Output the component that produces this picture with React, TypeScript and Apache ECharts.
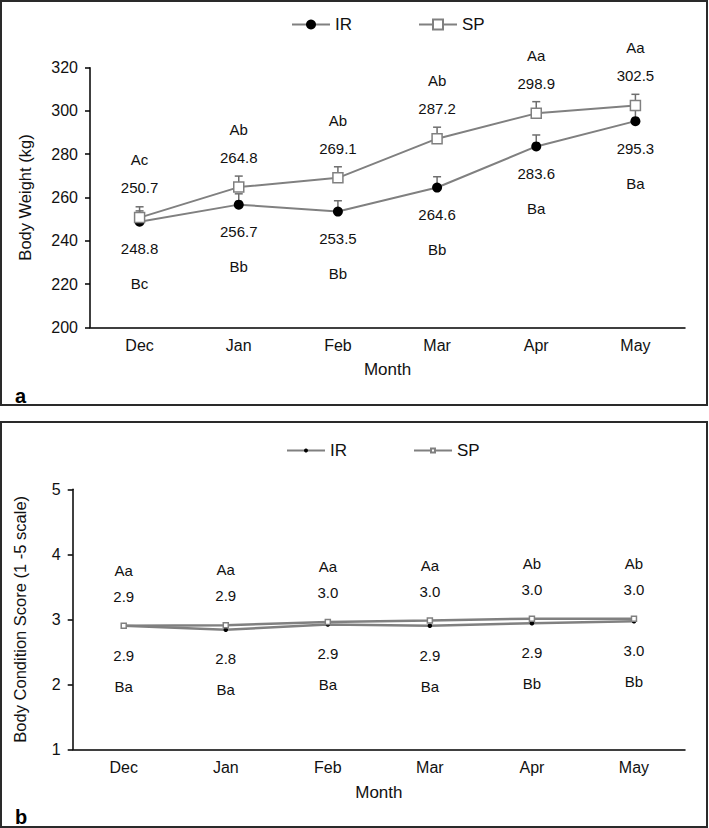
import React, { useEffect, useRef } from 'react';
import * as echarts from 'echarts';

const months = ['Dec', 'Jan', 'Feb', 'Mar', 'Apr', 'May'];

// Panel a: body weight (kg)
const bwIR = [248.8, 256.7, 253.5, 264.6, 283.6, 295.3];
const bwSP = [250.7, 264.8, 269.1, 287.2, 298.9, 302.5];
const bwIRErr = [5, 5, 5, 5, 5.3, 5];
const bwSPErr = [5, 5.1, 5.1, 5.3, 5.4, 5.2];
const bwIRLetters = ['Bc', 'Bb', 'Bb', 'Bb', 'Ba', 'Ba'];
const bwSPLetters = ['Ac', 'Ab', 'Ab', 'Ab', 'Aa', 'Aa'];
const bwAxis = { min: 200, max: 320, interval: 20 };

// Panel b: body condition score
const bcsIR = [2.9, 2.84, 2.92, 2.9, 2.94, 2.97];
const bcsSP = [2.9, 2.91, 2.96, 2.98, 3.01, 3.01];
const bcsIRLetters = ['Ba', 'Ba', 'Ba', 'Ba', 'Bb', 'Bb'];
const bcsSPLetters = ['Aa', 'Aa', 'Aa', 'Aa', 'Ab', 'Ab'];
const bcsAxis = { min: 1, max: 5, interval: 1 };

const FONT = '"Liberation Sans", Arial, sans-serif';
const GREY = '#808080';
const TXT = '#111';

function makeOption(cfg: any) {
  const {
    ir, sp, irErr, spErr, irLetters, spLetters, axis, yName, yNameSize,
    grid, yNameGap, xNameGap, legendPos, symIR, symSP, legendItemHeight,
    lineWidth, spLab, irLab, letter,
  } = cfg;

  const errSeries = (vals: number[], errs: number[] | null) =>
    errs
      ? [{
          type: 'custom',
          silent: true,
          z: 1,
          encode: { x: 0, y: 1 },
          data: vals.map((v, i) => [i, v, errs[i]]),
          renderItem: (params: any, api: any) => {
            const x = api.value(0);
            const y = api.value(1);
            const e = api.value(2);
            const p0 = api.coord([x, y]);
            const p1 = api.coord([x, y + e]);
            const cap = 4;
            const st = { stroke: '#6e6e6e', lineWidth: 1.5 };
            return {
              type: 'group',
              children: [
                { type: 'line', shape: { x1: p0[0], y1: p0[1], x2: p1[0], y2: p1[1] }, style: st },
                { type: 'line', shape: { x1: p1[0] - cap, y1: p1[1], x2: p1[0] + cap, y2: p1[1] }, style: st },
              ],
            };
          },
        }]
      : [];

  return {
    animation: false,
    textStyle: { fontFamily: FONT },
    legend: {
      data: ['IR', 'SP'],
      left: legendPos[0],
      top: legendPos[1],
      itemWidth: 38,
      itemHeight: legendItemHeight,
      itemGap: 66,
      textStyle: { fontSize: 17, color: TXT, fontFamily: FONT },
    },
    grid: { ...grid, containLabel: false },
    xAxis: {
      type: 'category',
      data: months,
      boundaryGap: true,
      axisTick: { show: false },
      axisLine: { show: true, lineStyle: { color: '#000', width: 1.5 } },
      axisLabel: { fontSize: 16, color: TXT, margin: 10, fontFamily: FONT },
      name: 'Month',
      nameLocation: 'middle',
      nameGap: xNameGap,
      nameTextStyle: { fontSize: 17, color: TXT, fontFamily: FONT },
      splitLine: { show: false },
    },
    yAxis: {
      type: 'value',
      min: axis.min,
      max: axis.max,
      interval: axis.interval,
      axisLine: { show: true, lineStyle: { color: '#000', width: 1.5 } },
      axisTick: { show: true, length: 5, lineStyle: { color: '#000', width: 1.5 } },
      splitLine: { show: false },
      axisLabel: { fontSize: 16, color: TXT, margin: 12, fontFamily: FONT },
      name: yName,
      nameLocation: 'middle',
      nameGap: yNameGap,
      nameTextStyle: { fontSize: yNameSize, color: TXT, fontFamily: FONT },
    },
    graphic: [
      {
        type: 'text',
        left: letter[0],
        top: letter[1],
        style: { text: letter[2], font: `bold 20px ${FONT}`, fill: '#000' },
      },
    ],
    series: [
      ...errSeries(ir, irErr),
      ...errSeries(sp, spErr),
      {
        name: 'IR',
        type: 'line',
        data: ir,
        z: 3,
        symbol: 'circle',
        symbolSize: symIR,
        itemStyle: { color: '#000', borderColor: '#000', borderWidth: 0 },
        lineStyle: { color: GREY, width: lineWidth },
        label: {
          show: true,
          position: 'bottom',
          distance: irLab[0],
          formatter: (p: any) => `{v|${Number(p.value).toFixed(1)}}\n{l|${irLetters[p.dataIndex]}}`,
          rich: {
            v: { fontSize: 15, color: TXT, lineHeight: irLab[1], fontFamily: FONT },
            l: { fontSize: 15, color: TXT, lineHeight: irLab[2], fontFamily: FONT },
          },
        },
      },
      {
        name: 'SP',
        type: 'line',
        data: sp,
        z: 4,
        symbol: 'rect',
        symbolSize: symSP,
        itemStyle: { color: '#fff', borderColor: GREY, borderWidth: 1.5 },
        lineStyle: { color: GREY, width: lineWidth },
        label: {
          show: true,
          position: 'top',
          distance: spLab[0],
          formatter: (p: any) => `{l|${spLetters[p.dataIndex]}}\n{v|${Number(p.value).toFixed(1)}}`,
          rich: {
            v: { fontSize: 15, color: TXT, lineHeight: spLab[1], fontFamily: FONT },
            l: { fontSize: 15, color: TXT, lineHeight: spLab[1], fontFamily: FONT },
          },
        },
      },
    ],
  };
}

function Chart({ option, style }: { option: any; style: React.CSSProperties }) {
  const ref = useRef<HTMLDivElement>(null);
  useEffect(() => {
    if (!ref.current) return;
    const chart = echarts.init(ref.current, undefined, { renderer: 'svg' });
    chart.setOption(option);
    return () => chart.dispose();
  }, [option]);
  return <div ref={ref} style={style} />;
}

const optA = makeOption({
  ir: bwIR, sp: bwSP, irErr: bwIRErr, spErr: bwSPErr,
  irLetters: bwIRLetters, spLetters: bwSPLetters, axis: bwAxis,
  yName: 'Body Weight (kg)', yNameSize: 16.5,
  grid: { left: 90, right: 24, top: 67.7, height: 259.6 },
  yNameGap: 57, xNameGap: 34,
  legendPos: [286, 11], symIR: 10, symSP: 10, legendItemHeight: 12.5, lineWidth: 2,
  spLab: [10, 28], irLab: [12, 20, 50],
  letter: [15, 386, 'a'],
});

const optB = makeOption({
  ir: bcsIR, sp: bcsSP, irErr: null, spErr: null,
  irLetters: bcsIRLetters, spLetters: bcsSPLetters, axis: bcsAxis,
  yName: 'Body Condition Score (1 -5 scale)', yNameSize: 16.5,
  grid: { left: 72.7, right: 24, top: 75.3, height: 260 },
  yNameGap: 44.5, xNameGap: 35,
  legendPos: [281, 23], symIR: 4.5, symSP: 5, legendItemHeight: 5, lineWidth: 2.5,
  spLab: [13, 26], irLab: [17, 20, 42],
  letter: [15, 393, 'b'],
});

export default function App() {
  return (
    <div style={{ position: 'absolute', left: 0, top: 0, width: 709, height: 828, background: '#fff' }}>
      <Chart option={optA} style={{ position: 'absolute', left: 0, top: 0, width: 709, height: 414 }} />
      <Chart option={optB} style={{ position: 'absolute', left: 0, top: 414, width: 709, height: 414 }} />
      <div style={{ position: 'absolute', left: 0, top: 0, width: 708, height: 406, border: '2px solid #2a2a2a', boxSizing: 'border-box', pointerEvents: 'none' }} />
      <div style={{ position: 'absolute', left: 0, top: 421, width: 708, height: 407, border: '2px solid #2a2a2a', boxSizing: 'border-box', pointerEvents: 'none' }} />
    </div>
  );
}
